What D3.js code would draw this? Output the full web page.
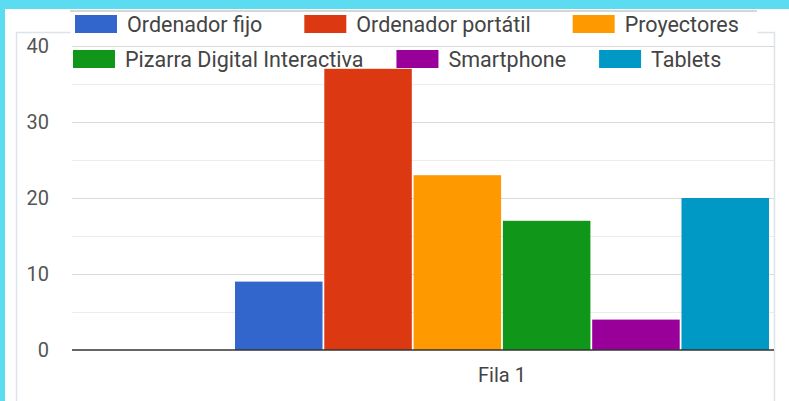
<!DOCTYPE html>
<html>
<head>
<meta charset="utf-8">
<script src="https://cdn.jsdelivr.net/npm/d3@7"></script>
<style>
  html, body { margin: 0; padding: 0; background: #5cdcf1; }
  svg { display: block; font-family: Roboto, "Noto Sans", sans-serif; }
</style>
</head>
<body>
<div id="chart"></div>
<script>
// Data
const categories = ['Fila 1']
const seriesNames = ['Ordenador fijo', 'Ordenador portátil', 'Proyectores', 'Pizarra Digital Interactiva', 'Smartphone', 'Tablets']
const seriesValues = [9, 37, 23, 17, 4, 20]
const seriesColors = ['#3366cc', '#dc3912', '#ff9900', '#109618', '#990099', '#0099c6']
const yTicks = [0, 10, 20, 30, 40]
const legendRows = [[0, 1, 2], [3, 4, 5]]

const width = 789
const height = 401
const plot = { left: 72, right: 774, top: 46, bottom: 350 }
const group = { left: 235, right: 769 }

const svg = d3.select('#chart').append('svg')
    .attr('width', width)
    .attr('height', height)

// White card and frame
svg.append('rect')
    .attr('x', 5).attr('y', 9)
    .attr('width', width - 5).attr('height', height - 9)
    .attr('fill', '#fff')
svg.append('path')
    .attr('d', `M16.5,${height}V32.5H774.5V${height}`)
    .attr('fill', 'none')
    .attr('stroke', '#dde3ea')
    .attr('stroke-width', 1.5)

// Scales
const y = d3.scaleLinear().domain([0, 40]).range([plot.bottom, plot.top])
const x0 = d3.scaleBand().domain(categories).range([group.left, group.right])
const x1 = d3.scaleBand().domain(seriesNames).range([0, x0.bandwidth()]).paddingInner(0.02)

// Gridlines (major + minor)
const minorTicks = d3.range(5, 40, 10)
svg.append('g').selectAll('line.minor')
    .data(minorTicks)
    .join('line')
    .attr('x1', plot.left).attr('x2', plot.right)
    .attr('y1', d => Math.round(y(d)) + 0.5).attr('y2', d => Math.round(y(d)) + 0.5)
    .attr('stroke', '#ececec')
svg.append('g').selectAll('line.major')
    .data(yTicks.filter(d => d > 0))
    .join('line')
    .attr('x1', plot.left).attr('x2', plot.right)
    .attr('y1', d => Math.round(y(d)) + 0.5).attr('y2', d => Math.round(y(d)) + 0.5)
    .attr('stroke', '#d9d9d9')

// Y axis labels
svg.append('g').selectAll('text')
    .data(yTicks)
    .join('text')
    .attr('x', 49)
    .attr('y', d => y(d))
    .attr('dy', '0.35em')
    .attr('text-anchor', 'end')
    .attr('fill', '#555')
    .style('font-size', '20px')
    .text(d => d)

// Bars
svg.append('g').selectAll('g')
    .data(categories)
    .join('g')
    .attr('transform', d => `translate(${x0(d)},0)`)
    .selectAll('rect')
    .data(() => seriesNames.map((name, i) => ({ name, value: seriesValues[i], color: seriesColors[i] })))
    .join('rect')
    .attr('x', d => x1(d.name))
    .attr('y', d => y(d.value))
    .attr('width', x1.bandwidth())
    .attr('height', d => y(0) - y(d.value))
    .attr('fill', d => d.color)

// Baseline
svg.append('line')
    .attr('x1', plot.left).attr('x2', plot.right)
    .attr('y1', y(0)).attr('y2', y(0))
    .attr('stroke', '#333')
    .attr('stroke-width', 1.5)

// X axis label
svg.append('text')
    .attr('x', x0('Fila 1') + x0.bandwidth() / 2)
    .attr('y', 375)
    .attr('dy', '0.35em')
    .attr('text-anchor', 'middle')
    .attr('fill', '#444')
    .style('font-size', '20px')
    .text(categories[0])

// Legend
svg.append('rect')
    .attr('x', 70.5).attr('y', 10.5)
    .attr('width', 687).attr('height', 25)
    .attr('fill', '#fff')
svg.append('line')
    .attr('x1', 70).attr('x2', 757)
    .attr('y1', 11).attr('y2', 11)
    .attr('stroke', '#d6d6d6')
    .attr('stroke-width', 2)

const rowStart = [75, 73]
const rowCenter = [24, 59]
const rowGap = [42, 33]
const legend = svg.append('g')
legendRows.forEach((row, r) => {
    let cx = rowStart[r]
    row.forEach(i => {
        const item = legend.append('g').attr('transform', `translate(${cx},${rowCenter[r]})`)
        item.append('rect')
            .attr('x', 0).attr('y', -9)
            .attr('width', 42).attr('height', 18)
            .attr('fill', seriesColors[i])
        const label = item.append('text')
            .attr('x', 52)
            .attr('dy', '0.35em')
            .attr('fill', '#444')
            .style('font-size', '21.5px')
            .text(seriesNames[i])
        cx += 52 + label.node().getComputedTextLength() + rowGap[r]
    })
})
</script>
</body>
</html>
